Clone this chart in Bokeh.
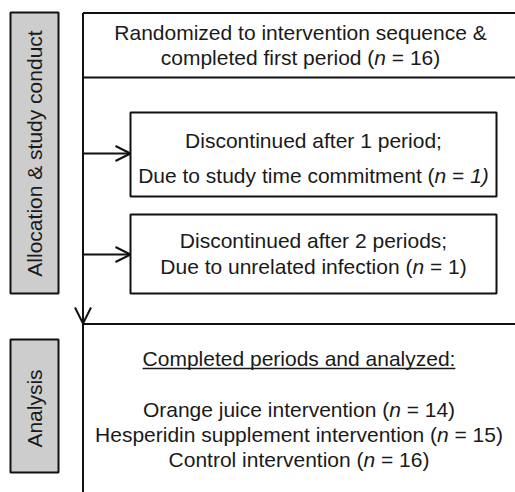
import math
from bokeh.plotting import figure
from bokeh.models import Range1d, ColumnDataSource, Arrow, OpenHead
from bokeh.core.properties import value
from bokeh.embed import file_html
from bokeh.resources import INLINE

# ---------------- data (texts; *...* marks italic) ----------------
top_lines = ["Randomized to intervention sequence &",
             "completed first period (*n* = 16)"]
disc1_lines = ["Discontinued after 1 period;",
               "Due to study time commitment (*n* = *1)*"]
disc2_lines = ["Discontinued after 2 periods;",
               "Due to unrelated infection (*n* = 1)"]
analysis_header = "Completed periods and analyzed:"
analysis_lines = ["Orange juice intervention (*n* = 14)",
                  "Hesperidin supplement intervention (*n* = 15)",
                  "Control intervention (*n* = 16)"]
stage_labels = ["Allocation & study conduct", "Analysis"]

# ---------------- layout / style ----------------
FONT = "Liberation Sans"
FS = 21
TXT = "#1a1a1a"
LINE = "#111111"
LW = 2
GRAY = "#cdcdcd"
TDY = -8  # baseline correction for text rendering

# Arial / Liberation Sans advance widths (1/1000 em)
AW = {' ': 278, '&': 667, '(': 333, ')': 333, ';': 278, ':': 278, '=': 584,
      'a': 556, 'b': 556, 'c': 500, 'd': 556, 'e': 556, 'f': 278, 'g': 556,
      'h': 556, 'i': 222, 'j': 222, 'k': 500, 'l': 222, 'm': 833, 'n': 556,
      'o': 556, 'p': 556, 'q': 556, 'r': 333, 's': 500, 't': 278, 'u': 556,
      'v': 500, 'w': 722, 'x': 500, 'y': 500, 'z': 500,
      'A': 667, 'C': 722, 'D': 722, 'H': 722, 'O': 778, 'R': 722}


def tw(s):
    return sum(AW.get(c, 556) for c in s) * FS / 1000.0


normal = dict(x=[], y=[], t=[])
italic = dict(x=[], y=[], t=[])


def add_line(line, cx, y):
    parts = line.split("*")
    segs = [(t, i % 2 == 1) for i, t in enumerate(parts) if t]
    total = sum(tw(t) for t, _ in segs)
    x = cx - total / 2.0
    for t, it in segs:
        lead = len(t) - len(t.lstrip(" "))
        s = t.strip(" ")
        if s:
            tgt = italic if it else normal
            tgt["x"].append(x + lead * tw(" "))
            tgt["y"].append(y + TDY)
            tgt["t"].append(s)
        x += tw(t)
    return cx - total / 2.0, total


p = figure(width=515, height=492, output_backend="svg", toolbar_location=None,
           x_range=Range1d(0, 515), y_range=Range1d(492, 0),
           min_border=0, outline_line_color=None, background_fill_color="white",
           border_fill_color="white")
p.xaxis.visible = False
p.yaxis.visible = False
p.grid.visible = False

# stage (gray) boxes
gray_boxes = [(10, 58, 12, 293), (10, 58, 339, 472)]
p.quad(left=[b[0] for b in gray_boxes], right=[b[1] for b in gray_boxes],
       top=[b[2] for b in gray_boxes], bottom=[b[3] for b in gray_boxes],
       fill_color=GRAY, line_color=LINE, line_width=LW)

# main frame lines
LX = 82.5
p.segment(x0=[LX, LX, LX, LX], y0=[12.5, 12.5, 77, 323.5],
          x1=[LX, 530, 530, 530], y1=[500, 12.5, 77, 323.5],
          line_color=LINE, line_width=LW)

# discontinued boxes
dboxes = [(130, 496, 112, 196), (130, 496, 214, 293)]
p.quad(left=[b[0] for b in dboxes], right=[b[1] for b in dboxes],
       top=[b[2] for b in dboxes], bottom=[b[3] for b in dboxes],
       fill_color="white", line_color=LINE, line_width=LW)

# arrows
for ya in (153, 254):
    p.add_layout(Arrow(end=OpenHead(size=15, line_width=LW, line_color=LINE),
                       x_start=LX, y_start=ya, x_end=130, y_end=ya,
                       line_width=LW, line_color=LINE))
p.add_layout(Arrow(end=OpenHead(size=16, line_width=LW, line_color=LINE),
                   x_start=LX, y_start=280, x_end=LX, y_end=323,
                   line_width=LW, line_color=LINE))

# texts
for line, yb in zip(top_lines, (40, 64.5)):
    add_line(line, 300, yb)
for line, yb in zip(disc1_lines, (148, 183)):
    add_line(line, 313, yb)
for line, yb in zip(disc2_lines, (248, 274)):
    add_line(line, 313, yb)
hx, hw = add_line(analysis_header, 298.5, 365.5)
p.segment(x0=[hx], y0=[368], x1=[hx + hw], y1=[368], line_color=TXT, line_width=1.5)
for line, yb in zip(analysis_lines, (416.5, 442, 467)):
    add_line(line, 298.5, yb)

p.text(x="x", y="y", text="t", source=ColumnDataSource(normal),
       text_font=value(FONT), text_font_size=f"{FS}px", text_color=TXT,
       text_align="left", text_baseline="alphabetic")
p.text(x="x", y="y", text="t", source=ColumnDataSource(italic),
       text_font=value(FONT), text_font_size=f"{FS}px", text_color=TXT,
       text_font_style="italic", text_align="left", text_baseline="alphabetic")

# rotated stage labels
p.text(x=[34, 34], y=[153, 408], text=stage_labels, angle=math.pi / 2,
       text_font=value(FONT), text_font_size=f"{FS}px", text_color=TXT,
       text_align="center", text_baseline="middle")

open("out.html", "w").write(file_html(p, INLINE))
